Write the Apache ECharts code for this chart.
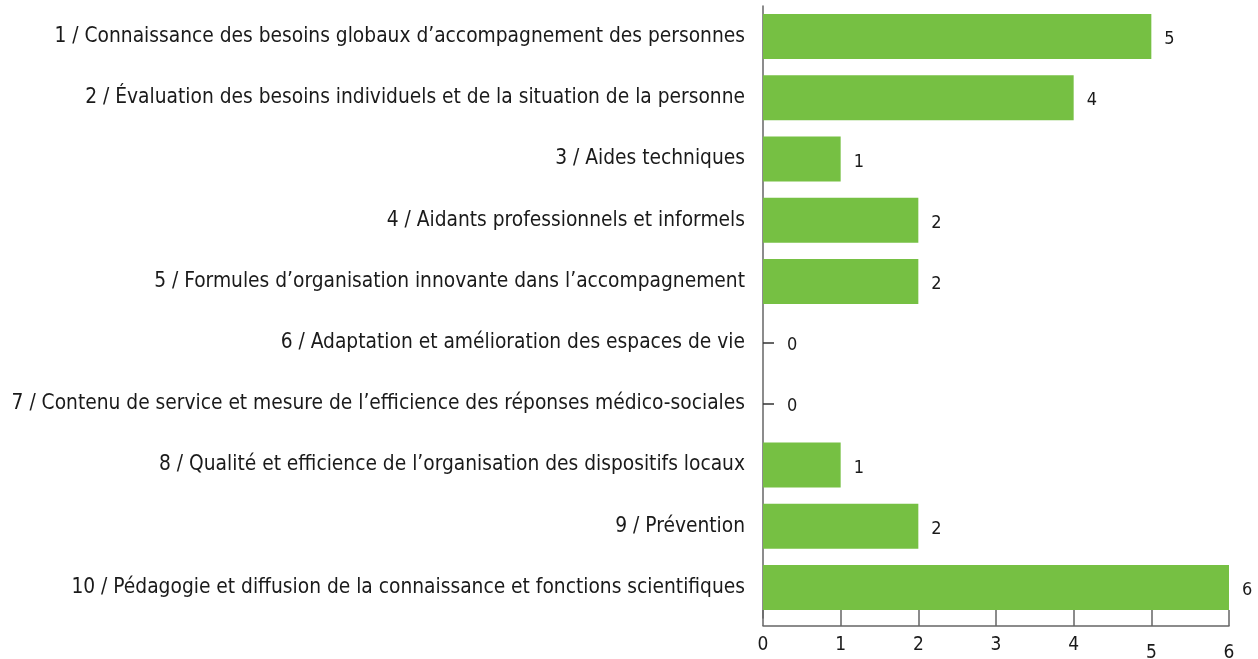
<!DOCTYPE html>
<html>
<head>
<meta charset="utf-8">
<script src="https://cdn.jsdelivr.net/npm/echarts@6/dist/echarts.min.js"></script>
<style>
  html, body { margin: 0; padding: 0; background: #ffffff; }
  #chart { width: 1258px; height: 659px; }
</style>
</head>
<body>
<div id="chart"></div>
<script>
// Thèmes de recherche et nombre de projets
const categories = [
  "1 / Connaissance des besoins globaux d’accompagnement des personnes",
  "2 / Évaluation des besoins individuels et de la situation de la personne",
  "3 / Aides techniques",
  "4 / Aidants professionnels et informels",
  "5 / Formules d’organisation innovante dans l’accompagnement",
  "6 / Adaptation et amélioration des espaces de vie",
  "7 / Contenu de service et mesure de l’efficience des réponses médico-sociales",
  "8 / Qualité et efficience de l’organisation des dispositifs locaux",
  "9 / Prévention",
  "10 / Pédagogie et diffusion de la connaissance et fonctions scientifiques"
];
const values = [5, 4, 1, 2, 2, 0, 0, 1, 2, 6];
const tickLabels = ["0", "1", "2", "3", "4", "5", "6"];
// ticks drawn a little lower on the axis
const loweredTicks = ["5", "6"];

const FONT = "'DejaVu Sans Condensed', 'Liberation Sans Narrow', 'Noto Sans', sans-serif";
const TEXT = "#1a1a1a";
const AXIS = "#666666";

// empty bars keep their label clear of the axis tick
const barData = values.map(function (v) {
  return v === 0 ? { value: v, label: { distance: 24 } } : v;
});

const chart = echarts.init(document.getElementById("chart"), null, { renderer: "canvas" });
chart.setOption({
  animation: false,
  backgroundColor: "#ffffff",
  grid: {
    left: 763, right: 29, top: 6, bottom: 41,
    containLabel: false,
    outerBoundsMode: "none"
  },
  xAxis: {
    type: "value",
    min: 0,
    max: 6,
    interval: 1,
    offset: 8,
    axisLine: { show: true, lineStyle: { color: AXIS, width: 1.5 } },
    axisTick: { show: true, inside: true, length: 16, lineStyle: { color: AXIS, width: 1.5 } },
    splitLine: { show: false },
    axisLabel: {
      margin: 10,
      fontFamily: FONT,
      fontSize: 19,
      color: TEXT,
      formatter: function (v) {
        const s = tickLabels[v] !== undefined ? tickLabels[v] : String(v);
        return loweredTicks.indexOf(s) >= 0 ? "{low|" + s + "}" : "{n|" + s + "}";
      },
      rich: {
        n: { fontFamily: FONT, fontSize: 19, color: TEXT },
        low: { fontFamily: FONT, fontSize: 19, color: TEXT, padding: [8, 0, 0, 0] }
      }
    }
  },
  yAxis: {
    type: "category",
    data: categories,
    inverse: true,
    axisLine: { show: true, lineStyle: { color: AXIS, width: 1.5 } },
    axisTick: { show: true, inside: true, alignWithLabel: true, length: 11, lineStyle: { color: "#333333", width: 1.5 } },
    axisLabel: {
      margin: 18,
      fontFamily: FONT,
      fontSize: 20.75,
      color: TEXT
    }
  },
  series: [{
    type: "bar",
    data: barData,
    barWidth: 45,
    z: 3,
    itemStyle: { color: "#76c043" },
    label: {
      show: true,
      position: "right",
      distance: 13,
      fontFamily: FONT,
      fontSize: 18,
      color: TEXT,
      offset: [0, 3]
    }
  }]
});
</script>
</body>
</html>
